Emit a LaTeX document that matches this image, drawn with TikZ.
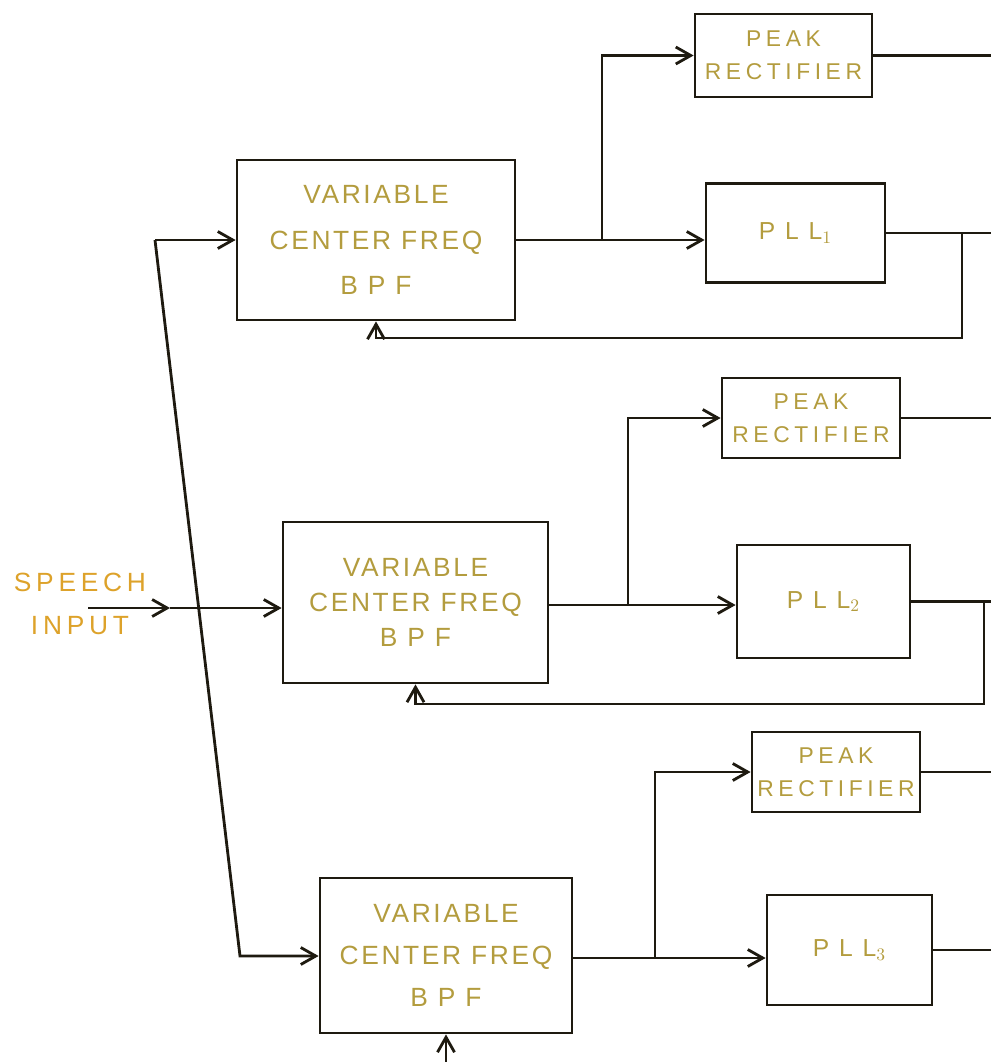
\documentclass[tikz,border=0pt]{standalone}
\usepackage{fontspec}
\newfontfamily\stencil{Liberation Sans}[LetterSpace=10]
\usetikzlibrary{arrows.meta}
\definecolor{ink}{HTML}{1E1A10}
\definecolor{faded}{HTML}{B39C3E}
\definecolor{amber}{HTML}{DDA22A}
\tikzset{
  blk/.style={draw=ink, line width=1.6pt, inner sep=0pt, align=center, text=faded},
  bpfbox/.style={blk, font=\stencil\fontsize{15}{#1}\selectfont},
  bpfbox/.default=22,
  peakbox/.style={blk, font=\stencil\addfontfeature{LetterSpace=20}\fontsize{13}{19}\selectfont},
  pllbox/.style={blk, font=\stencil\addfontfeature{LetterSpace=40}\fontsize{14}{15}\selectfont},
  wire/.style={draw=ink, line width=1.6pt},
  sig/.style={wire, -{Straight Barb[length=3mm,width=3.4mm]}}
}
\begin{document}
\begin{tikzpicture}[x=0.02cm, y=-0.02cm]
  \useasboundingbox (0,0) rectangle (991,1062);
  % band-pass filters, one per channel
  \node[bpfbox=26, minimum width=5.56cm, minimum height=3.2cm]  (bpf1) at (376,240)   {VARIABLE\\CENTER FREQ\\B P F};
  \node[bpfbox=20, minimum width=5.3cm,  minimum height=3.22cm] (bpf2) at (415.5,602.5) {VARIABLE\\CENTER FREQ\\B P F};
  \node[bpfbox=24, minimum width=5.04cm, minimum height=3.1cm]  (bpf3) at (446,955.5) {VARIABLE\\CENTER FREQ\\B P F};
  % peak rectifiers
  \node[peakbox, minimum width=3.54cm, minimum height=1.66cm] (peak1) at (783.5,55.5) {PEAK\\RECTIFIER};
  \node[peakbox, minimum width=3.56cm, minimum height=1.6cm]  (peak2) at (811,418)    {PEAK\\RECTIFIER};
  \node[peakbox, minimum width=3.36cm, minimum height=1.6cm]  (peak3) at (836,772)    {PEAK\\RECTIFIER};
  % phase-locked loops
  \node[pllbox, minimum width=3.58cm, minimum height=1.98cm] (pll1) at (795.5,233) {PLL$_1$};
  \node[pllbox, minimum width=3.46cm, minimum height=2.26cm] (pll2) at (823.5,601.5) {PLL$_2$};
  \node[pllbox, minimum width=3.3cm,  minimum height=2.2cm]  (pll3) at (849.5,950) {PLL$_3$};
  % input
  \node[font=\stencil\addfontfeature{LetterSpace=18}\fontsize{15}{24}\selectfont, text=amber, align=center] (speech) at (80,604) {SPEECH\\INPUT};
  \coordinate (src) at (88,608);
  \coordinate (mid) at (170,608);
  \coordinate (bustop) at (155,240);
  \coordinate (busbot) at (240,956);
  \draw[sig] (src) -- (mid);
  \draw[sig] (mid) -- (mid -| bpf2.west);
  \draw[sig] (bustop) -- (bustop -| bpf1.west);
  \draw[sig] (bustop) -- (busbot) -- (busbot -| bpf3.west);
  % taps to the rectifiers
  \coordinate (tap1) at (602,240);
  \coordinate (tap2) at (628,605);
  \coordinate (tap3) at (655,958);
  \draw[sig] (bpf1.east |- tap1) -- (tap1 -| pll1.west);
  \draw[sig] (tap1) |- (peak1.west);
  \draw[sig] (bpf2.east |- tap2) -- (tap2 -| pll2.west);
  \draw[sig] (tap2) |- (peak2.west);
  \draw[sig] (bpf3.east |- tap3) -- (tap3 -| pll3.west);
  \draw[sig] (tap3) |- (peak3.west);
  % outputs off the right edge
  \coordinate (edge) at (991,0);
  \draw[wire] (peak1.east) -- (peak1.east -| edge);
  \draw[wire] (peak2.east) -- (peak2.east -| edge);
  \draw[wire] (peak3.east) -- (peak3.east -| edge);
  \draw[wire] (pll1.east) -- (pll1.east -| edge);
  \draw[wire] (pll2.east) -- (pll2.east -| edge);
  \draw[wire] (pll3.east) -- (pll3.east -| edge);
  % centre-frequency feedback
  \coordinate (fb1) at (962,338);
  \coordinate (fb2) at (984,704);
  \coordinate (fb3) at (446,1062);
  \draw[sig] (pll1.east -| fb1) -- (fb1) -| (bpf1.south);
  \draw[sig] (pll2.east -| fb2) -- (fb2) -| (bpf2.south);
  \draw[sig] (fb3) -- (bpf3.south);
\end{tikzpicture}
\end{document}
